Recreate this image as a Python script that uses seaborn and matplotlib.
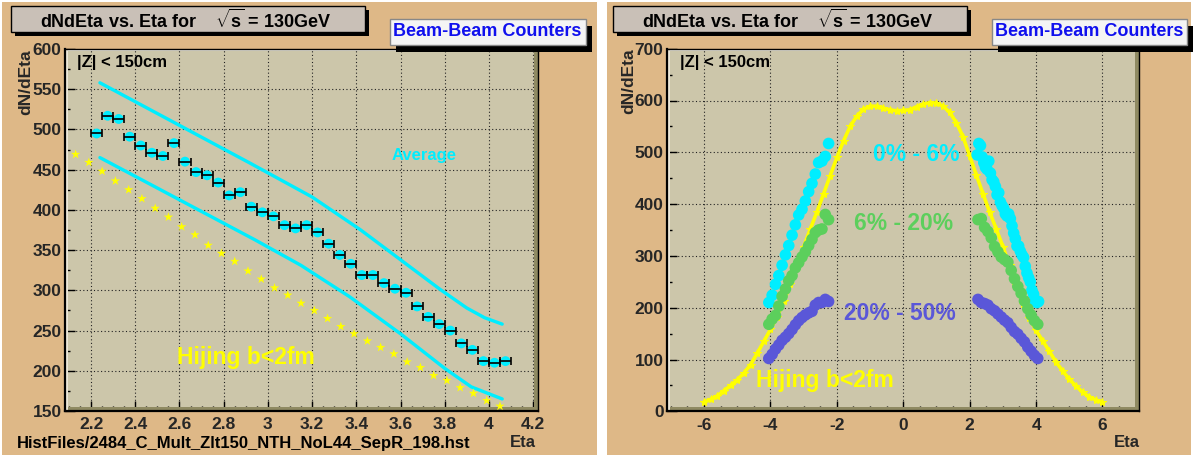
import numpy as np
import pandas as pd
import matplotlib
matplotlib.use("Agg")
import matplotlib.pyplot as plt
from matplotlib.patches import Rectangle
from matplotlib.ticker import MultipleLocator
import seaborn as sns

# ---------------- data: left panel ----------------
bin_eta = [2.225, 2.275, 2.325, 2.375, 2.425, 2.475, 2.525, 2.575, 2.625, 2.675,
           2.725, 2.775, 2.825, 2.875, 2.925, 2.975, 3.025, 3.075, 3.125, 3.175,
           3.225, 3.275, 3.325, 3.375, 3.425, 3.475, 3.525, 3.575, 3.625, 3.675,
           3.725, 3.775, 3.825, 3.875, 3.925, 3.975, 4.025, 4.075]
avg_mult = [495, 517, 513, 491, 480, 471, 467, 483, 460, 447,
            443, 434, 418, 422, 404, 397, 392, 381, 377, 381,
            372, 358, 344, 333, 319, 319, 309, 302, 297, 280,
            267, 258, 250, 234, 226, 212, 210, 212]
bin_half_width = 0.025

hij_eta_l = [2.13, 2.19, 2.25, 2.31, 2.37, 2.43, 2.49, 2.55, 2.61, 2.67,
             2.73, 2.79, 2.85, 2.91, 2.97, 3.03, 3.09, 3.15, 3.21, 3.27,
             3.33, 3.39, 3.45, 3.51, 3.57, 3.63, 3.69, 3.75, 3.81, 3.87,
             3.93, 3.99, 4.05]
hij_val_l = [469, 459, 448, 436, 425, 414, 402, 391, 379, 369,
             356, 346, 336, 324, 314, 303, 294, 284, 275, 265,
             255, 246, 237, 229, 221, 211, 204, 194, 188, 179,
             172, 163, 156]

upper_eta = [2.24, 2.92, 3.20, 3.42, 3.60, 3.78, 3.90, 3.98, 4.06]
upper_val = [558, 458, 416, 375, 338, 301, 278, 266, 258]
lower_eta = [2.24, 2.94, 3.15, 3.37, 3.60, 3.80, 3.92, 4.06]
lower_val = [465, 363, 331, 292, 246, 203, 180, 165]

# ---------------- data: right panel ----------------
hij_eta = [-6.0, -5.8, -5.6, -5.4, -5.2, -5.0, -4.8, -4.6, -4.4, -4.2,
           -4.0, -3.8, -3.6, -3.4, -3.2, -3.0, -2.8, -2.6, -2.4, -2.2,
           -2.0, -1.8, -1.6, -1.4, -1.2, -1.0, -0.8, -0.6, -0.4, -0.2,
           0.0, 0.2, 0.4, 0.6, 0.8, 1.0, 1.2, 1.4, 1.6, 1.8,
           2.0, 2.2, 2.4, 2.6, 2.8, 3.0, 3.2, 3.4, 3.6, 3.8,
           4.0, 4.2, 4.4, 4.6, 4.8, 5.0, 5.2, 5.4, 5.6, 5.8, 6.0]
hij_val = [18, 23, 30, 40, 50, 61, 74, 90, 112, 135,
           158, 183, 212, 245, 280, 318, 352, 385, 420, 455,
           490, 522, 550, 570, 583, 589, 589, 585, 582, 580,
           581, 582, 588, 593, 596, 595, 589, 577, 557, 530,
           493, 456, 420, 385, 352, 318, 282, 243, 208, 180,
           156, 136, 116, 95, 78, 62, 49, 37, 28, 22, 17]

neg_eta = [-4.05, -3.95, -3.85, -3.75, -3.65, -3.55, -3.45, -3.35, -3.25, -3.15,
           -3.05, -2.95, -2.85, -2.75, -2.65, -2.55, -2.45, -2.35, -2.25]
pos_eta = [2.25, 2.35, 2.45, 2.55, 2.65, 2.75, 2.85, 2.95, 3.05, 3.15,
           3.25, 3.35, 3.45, 3.55, 3.65, 3.75, 3.85, 3.95, 4.05]

c0_6_neg = [210, 224, 245, 262, 282, 302, 320, 340, 360, 379,
            390, 406, 424, 440, 458, 480, 483, 492, 517]
c6_20_neg = [168, 178, 185, 203, 222, 236, 252, 262, 277, 287,
             298, 308, 320, 332, 345, 350, 352, 380, 370]
c6_20_pos = [370, 372, 355, 347, 335, 318, 308, 298, 293, 288,
             272, 256, 241, 228, 213, 198, 186, 175, 168]
c20_50_neg = [102, 110, 120, 128, 137, 143, 150, 158, 167, 175,
              181, 186, 190, 193, 205, 210, 210, 216, 212]
c20_50_pos = [216, 210, 208, 205, 198, 194, 188, 182, 176, 171,
              162, 154, 149, 141, 134, 124, 116, 108, 102]

left_xticks = [2.2, 2.4, 2.6, 2.8, 3.0, 3.2, 3.4, 3.6, 3.8, 4.0, 4.2]
left_xticklabels = ["2.2", "2.4", "2.6", "2.8", "3", "3.2", "3.4", "3.6", "3.8", "4", "4.2"]

# ---------------- style ----------------
sns.set_theme(style="white")
plt.rcParams["font.family"] = ["Liberation Sans", "DejaVu Sans"]
plt.rcParams["font.weight"] = "bold"
plt.rcParams["axes.labelweight"] = "bold"
plt.rcParams["axes.unicode_minus"] = False
plt.rcParams["mathtext.fontset"] = "custom"
plt.rcParams["mathtext.rm"] = "Liberation Sans:bold"
plt.rcParams["mathtext.it"] = "Liberation Sans:bold"
plt.rcParams["mathtext.bf"] = "Liberation Sans:bold"

PAD = "#deb887"
FRAME = "#ccc6aa"
CYAN = "#00eeff"
YEL = "#ffff00"
GREEN = "#5ccf5c"
BLUE = "#5a57d8"

W, H = 1193, 457
fig = plt.figure(figsize=(W / 100, H / 100), dpi=100)
fig.patch.set_facecolor("white")

bg = fig.add_axes([0, 0, 1, 1], zorder=0)
bg.set_xlim(0, W); bg.set_ylim(H, 0); bg.axis("off")
bg.add_patch(Rectangle((2, 2), 595, 453, facecolor=PAD, edgecolor="none"))
bg.add_patch(Rectangle((607, 2), 584, 453, facecolor=PAD, edgecolor="none"))

axL = fig.add_axes([65 / W, 1 - 411 / H, 473 / W, 362 / H], zorder=2)
axR = fig.add_axes([667 / W, 1 - 411.3 / H, 472 / W, 362.6 / H], zorder=2)


def style_axes(ax, xlim, ylim, xmaj, xmin, ymaj, ymin):
    ax.set_facecolor(FRAME)
    ax.set_xlim(*xlim)
    ax.set_ylim(*ylim)
    ax.xaxis.set_major_locator(MultipleLocator(xmaj))
    ax.xaxis.set_minor_locator(MultipleLocator(xmin))
    ax.yaxis.set_major_locator(MultipleLocator(ymaj))
    ax.yaxis.set_minor_locator(MultipleLocator(ymin))
    ax.grid(True, which="major", color="#222222", linestyle=(0, (1, 2.2)), linewidth=0.8, zorder=1)
    ax.set_axisbelow(True)
    ax.tick_params(which="both", direction="in", bottom=True, left=True, top=False, right=False,
                   color="black", width=1)
    ax.tick_params(which="major", length=7, labelsize=12.5)
    ax.tick_params(which="minor", length=3.5)
    ax.tick_params(axis="x", which="major", pad=4.5)
    ax.tick_params(axis="y", which="major", pad=2.5)
    for s in ["left", "bottom"]:
        ax.spines[s].set_color("black"); ax.spines[s].set_linewidth(1.6)
    for s in ["top", "right"]:
        ax.spines[s].set_color("black"); ax.spines[s].set_linewidth(1.0)
    bb = ax.get_position()
    pw, ph = bb.width * W, bb.height * H
    tr = ax.transAxes
    ax.add_patch(Rectangle((0, 0), 1, 4 / ph, transform=tr, facecolor="#8f8a62", edgecolor="none", zorder=1.5))
    ax.add_patch(Rectangle((1 - 4 / pw, 0), 4 / pw, 1, transform=tr, facecolor="#8f8a62", edgecolor="none", zorder=1.5))
    ax.add_patch(Rectangle((0, 1 - 2 / ph), 1, 2 / ph, transform=tr, facecolor="#f2efe4", edgecolor="none", zorder=1.5))
    ax.add_patch(Rectangle((0, 0), 3 / pw, 1, transform=tr, facecolor="#ebe7d8", edgecolor="none", zorder=1.5))


# ---------------- left panel ----------------
style_axes(axL, (2.082, 4.222), (150, 600), 0.2, 0.05, 50, 25)
axL.set_xticks(left_xticks)
axL.set_xticklabels(left_xticklabels)

sns.lineplot(x=upper_eta, y=upper_val, ax=axL, color=CYAN, lw=2.4, sort=False, legend=False, zorder=3)
sns.lineplot(x=lower_eta, y=lower_val, ax=axL, color=CYAN, lw=2.4, sort=False, legend=False, zorder=3)
sns.scatterplot(x=hij_eta_l, y=hij_val_l, ax=axL, marker="*", color=YEL, s=50,
                edgecolor="none", legend=False, zorder=3)
dfL = pd.DataFrame({"eta": bin_eta, "dndeta": avg_mult})
sns.scatterplot(data=dfL, x="eta", y="dndeta", ax=axL, color=CYAN, s=50,
                edgecolor="none", legend=False, zorder=4)
axL.errorbar(bin_eta, avg_mult, xerr=bin_half_width, fmt="none", ecolor="black",
             elinewidth=1.2, capsize=3, capthick=1.2, zorder=5)

axL.text(0.025, 0.962, "|Z| < 150cm", transform=axL.transAxes, fontsize=12,
         fontweight="bold", va="center", ha="left", color="black")
axL.text(3.705, 467, "Average", fontsize=12, fontweight="bold", color=CYAN, ha="center", va="center")
axL.text(2.899, 216, "Hijing b<2fm", fontsize=16.5, fontweight="bold", color=YEL, ha="center", va="center")

axL.set_xlabel("Eta", fontsize=12, fontweight="bold", loc="right")
axL.xaxis.set_label_coords(0.996, -0.066)
axL.xaxis.label.set_va("top")
axL.set_ylabel("dN/dEta", fontsize=12.5, fontweight="bold", loc="top")
axL.yaxis.set_label_coords(-0.068, 1.0)

# ---------------- right panel ----------------
style_axes(axR, (-7.117, 7.1), (0, 700), 2, 0.5, 100, 50)

sns.lineplot(x=hij_eta, y=hij_val, ax=axR, color=YEL, lw=2.6, sort=False, legend=False,
             marker="*", markersize=6, markeredgecolor=YEL, zorder=3)
for xs, ys, col in [(neg_eta, c0_6_neg, CYAN), (bin_eta, avg_mult, CYAN),
                    (neg_eta, c6_20_neg, GREEN), (pos_eta, c6_20_pos, GREEN),
                    (neg_eta, c20_50_neg, BLUE), (pos_eta, c20_50_pos, BLUE)]:
    sns.scatterplot(x=xs, y=ys, ax=axR, color=col, s=70, edgecolor="none", legend=False, zorder=4)

axR.text(0.028, 0.962, "|Z| < 150cm", transform=axR.transAxes, fontsize=12,
         fontweight="bold", va="center", ha="left", color="black")
axR.text(0.39, 495, "0% - 6%", fontsize=16.5, fontweight="bold", color=CYAN, ha="center", va="center")
axR.text(0.02, 363, "6% - 20%", fontsize=16.5, fontweight="bold", color=GREEN, ha="center", va="center")
axR.text(-0.11, 189, "20% - 50%", fontsize=16.5, fontweight="bold", color=BLUE, ha="center", va="center")
axR.text(-2.37, 60, "Hijing b<2fm", fontsize=16.5, fontweight="bold", color=YEL, ha="center", va="center")

axR.set_xlabel("Eta", fontsize=12, fontweight="bold", loc="right")
axR.xaxis.set_label_coords(1.002, -0.066)
axR.xaxis.label.set_va("top")
axR.set_ylabel("dN/dEta", fontsize=12.5, fontweight="bold", loc="top")
axR.yaxis.set_label_coords(-0.066, 1.0)

# ---------------- title boxes ----------------
fg = fig.add_axes([0, 0, 1, 1], zorder=6)
fg.set_xlim(0, W); fg.set_ylim(H, 0); fg.axis("off")
fg.patch.set_visible(False)

title = r"dNdEta vs. Eta for    $\sqrt{s}$ = 130GeV"
for x0 in [10.7, 612.5]:
    fg.add_patch(Rectangle((x0 + 4, 5.7 + 4), 354.3, 26.8, facecolor="black", edgecolor="none"))
    fg.add_patch(Rectangle((x0, 5.7), 354.3, 26.8, facecolor="#c9c0b7", edgecolor="black", lw=1))
    fg.text(x0 + 175.3, 20, title, fontsize=13, fontweight="bold", ha="center", va="center", color="black")
for x0 in [390, 991.5]:
    fg.add_patch(Rectangle((x0 + 6, 19 + 7), 195.5, 26, facecolor="black", edgecolor="none"))
    fg.add_patch(Rectangle((x0, 19), 195.5, 26, facecolor="#f4f4f4", edgecolor="#888888", lw=1))
    fg.text(x0 + 97.5, 32, "Beam-Beam Counters", fontsize=13, fontweight="bold",
            ha="center", va="center", color="#1010ee")

fg.text(17, 443.5, "HistFiles/2484_C_Mult_Zlt150_NTH_NoL44_SepR_198.hst", fontsize=12,
        fontweight="bold", ha="left", va="center", color="black")

fig.canvas.draw()
for ax in (axL, axR):
    for lab in ax.get_xticklabels() + ax.get_yticklabels():
        lab.set_fontweight("bold")

fig.savefig("out.png", dpi=100)
